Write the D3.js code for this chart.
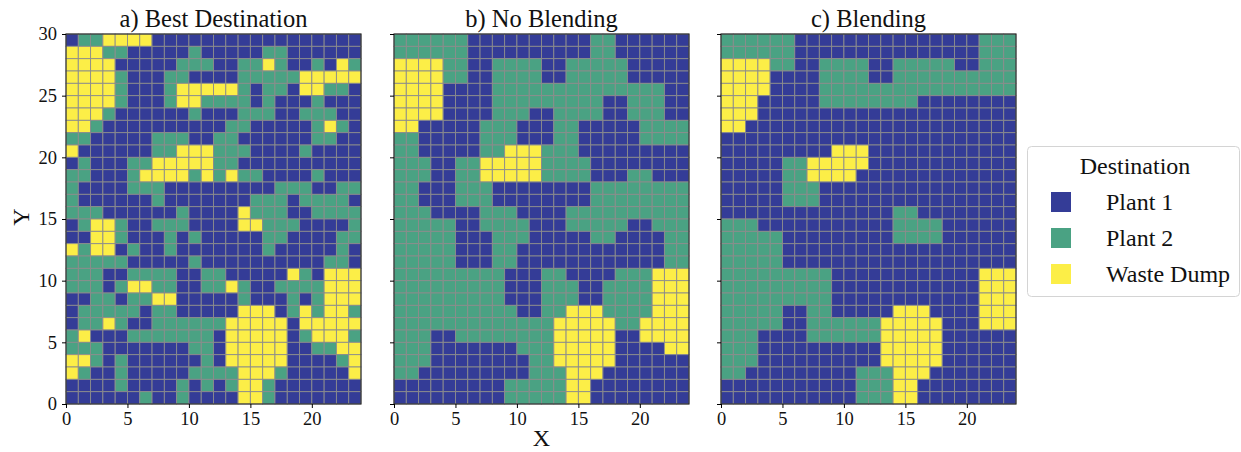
<!DOCTYPE html>
<html>
<head>
<meta charset="utf-8">
<script src="https://cdn.jsdelivr.net/npm/d3@7"></script>
<style>
  body { margin: 0; background: #fff; }
  svg text { font-family: "Liberation Serif", "Times New Roman", serif; fill: #111; }
</style>
</head>
<body>
<svg id="chart" width="1241" height="452"></svg>
<script>
// categories of the colour map (0, 1, 2)
const categories = ["Plant 1", "Plant 2", "Waste Dump"];
const panelTitles = ["a) Best Destination", "b) No Blending", "c) Blending"];
const xTicks = [0, 5, 10, 15, 20];
const yTicks = [0, 5, 10, 15, 20, 25, 30];

// grids: one string per row, top row (y 29..30) first, 24 columns each
const bestDestination = [
  "011222200000000000000000",
  "222110000010000011000000",
  "222200000111001121001021",
  "222210001100001111122222",
  "222210001222221011022110",
  "222210001221111010001000",
  "222100000010001110011100",
  "221000000000011000001210",
  "110000011100110000001100",
  "200000011222111000010000",
  "010001122222110000000000",
  "110001222212121100001000",
  "100001110000000001110011",
  "100000010000000111011110",
  "111000000100002111001111",
  "012210011100002211100001",
  "002210001010000011000011",
  "212201001000000010000010",
  "111110000010000000000110",
  "111001111001100000210222",
  "111012211001121001111222",
  "001101122000001000101222",
  "011111011000002220121221",
  "011210011111122222022222",
  "120001111111022222012221",
  "111000000011022222001122",
  "221010000001022222000012",
  "210010000011112221000002",
  "000010000101012210000000",
  "000000100100002210000000"
];

const noBlending = [
  "111111000000000011000000",
  "111111000000000011000000",
  "222211001111001111100000",
  "222211001111001111100000",
  "222200001111111111111100",
  "222200001111111110011100",
  "222200001110011110011100",
  "220000011100011000001111",
  "110000011100011000001111",
  "110000011222111000000000",
  "111001122222111100000000",
  "111001122222111100011000",
  "110001110000000011111111",
  "110001110000000011111111",
  "111000011100001111111111",
  "111110011110001111100111",
  "111110001110000011000011",
  "111110001100000000000011",
  "111110001100000000000011",
  "111111111000110000111222",
  "111111111000111001111222",
  "111111111000111001111222",
  "111111111100112221111222",
  "111111111111122222112222",
  "111001111111122222002222",
  "111000000011122222000022",
  "111000000001122222000000",
  "110000000001112220000000",
  "000000000111112200000000",
  "000000000111112200000000"
];

const blending = [
  "111111000000000000000111",
  "111111000000000000000111",
  "222211001111001111100111",
  "222200001111001111111111",
  "222200001111111111111111",
  "222000001111111100000000",
  "222000000000000000000000",
  "220000000000000000000000",
  "000000000000000000000000",
  "000000000222000000000000",
  "000001122222000000000000",
  "000001122220000000000000",
  "000001110000000000000000",
  "000001110000000000000000",
  "000000000000001100000000",
  "111000000000001111000000",
  "111110000000001111000000",
  "111110000000000000000000",
  "111110000000000000000000",
  "111111111000000000000222",
  "111111111000000000000222",
  "111111111000000000000222",
  "111110011000002220000222",
  "111110011111122222000222",
  "111000011111122222000000",
  "111000000000022222000000",
  "111000000000022222000000",
  "110000000001112220000000",
  "000000000001112200000000",
  "000000000001112200000000"
];

const grids = [bestDestination, noBlending, blending];
const colours = ["#343c97", "#4aa283", "#fcee47"];

const svg = d3.select("#chart");
const nCols = 24, nRows = 30;
const panelLeft = [66, 394, 721];
const panelWidth = 295;
const plotTop = 34, plotBottom = 404;

const y = d3.scaleLinear().domain([0, nRows]).range([plotBottom, plotTop]);

grids.forEach(function (grid, p) {
  const x = d3.scaleLinear().domain([0, nCols]).range([panelLeft[p], panelLeft[p] + panelWidth]);
  const g = svg.append("g");

  // flatten the rows into cells
  const cells = [];
  grid.forEach(function (row, i) {
    const r = nRows - 1 - i;
    row.split("").forEach(function (c, j) {
      cells.push({ col: j, row: r, v: +c });
    });
  });

  g.selectAll("rect.cell").data(cells).join("rect")
    .attr("class", "cell")
    .attr("x", d => x(d.col))
    .attr("y", d => y(d.row + 1))
    .attr("width", d => x(d.col + 1) - x(d.col))
    .attr("height", d => y(d.row) - y(d.row + 1))
    .attr("fill", d => colours[d.v])
    .attr("stroke", "#8c8c8c")
    .attr("stroke-width", 0.9);

  // frame
  g.append("rect")
    .attr("x", x(0)).attr("y", y(nRows))
    .attr("width", x(nCols) - x(0)).attr("height", y(0) - y(nRows))
    .attr("fill", "none").attr("stroke", "#222").attr("stroke-width", 1);

  // x axis
  const xa = g.append("g")
    .attr("transform", "translate(0," + plotBottom + ")")
    .call(d3.axisBottom(x).tickValues(xTicks).tickSize(4).tickPadding(4));
  xa.select(".domain").remove();
  xa.selectAll("text").attr("font-size", 18.5).style("font-family", '"Liberation Serif", serif');

  // y axis (labels only on the first panel)
  const ya = g.append("g")
    .attr("transform", "translate(" + panelLeft[p] + ",0)")
    .call(d3.axisLeft(y).tickValues(yTicks).tickSize(4).tickPadding(5)
      .tickFormat(p === 0 ? d3.format("d") : ""));
  ya.select(".domain").remove();
  ya.selectAll("text").attr("font-size", 18.5).style("font-family", '"Liberation Serif", serif');

  // title
  g.append("text")
    .attr("x", x(nCols / 2)).attr("y", 27)
    .attr("text-anchor", "middle")
    .attr("font-size", 24.5)
    .text(panelTitles[p]);
});

// axis titles
svg.append("text")
  .attr("x", panelLeft[1] + panelWidth / 2).attr("y", 446)
  .attr("text-anchor", "middle").attr("font-size", 24)
  .text("X");

svg.append("text")
  .attr("transform", "translate(29,217) rotate(-90)")
  .attr("text-anchor", "middle").attr("font-size", 24)
  .text("Y");

// legend
const legend = svg.append("g");
legend.append("rect")
  .attr("x", 1027.5).attr("y", 146.5)
  .attr("width", 212).attr("height", 150)
  .attr("rx", 4)
  .attr("fill", "#fff").attr("stroke", "#d4d4d4");

legend.append("text")
  .attr("x", 1135).attr("y", 174)
  .attr("text-anchor", "middle").attr("font-size", 24)
  .text("Destination");

const items = legend.selectAll("g.item").data(categories).join("g")
  .attr("class", "item")
  .attr("transform", (d, i) => "translate(0," + (192 + i * 36) + ")");

items.append("rect")
  .attr("x", 1051).attr("y", 0)
  .attr("width", 20).attr("height", 20)
  .attr("fill", (d, i) => colours[i]);

items.append("text")
  .attr("x", 1106).attr("y", 18)
  .attr("font-size", 24)
  .text(d => d);
</script>
</body>
</html>
